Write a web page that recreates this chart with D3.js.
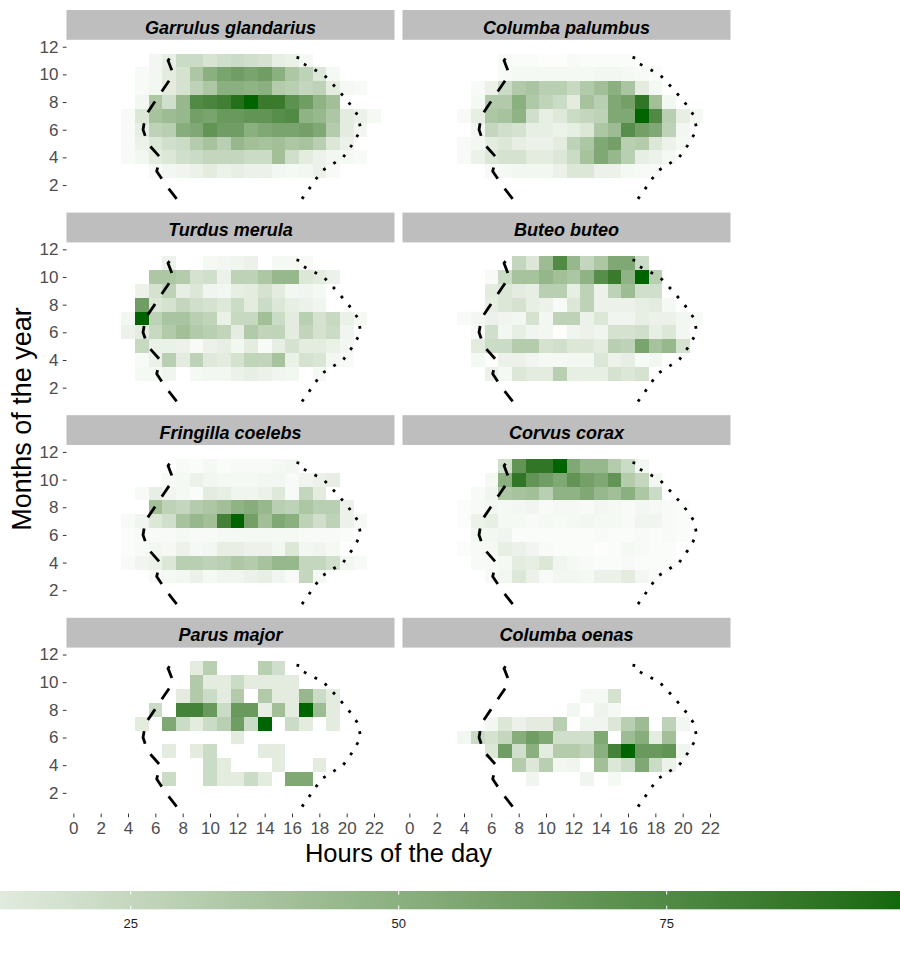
<!DOCTYPE html>
<html>
<head>
<meta charset="utf-8">
<script src="https://cdn.jsdelivr.net/npm/d3@7"></script>
<style>
body { margin: 0; background: #fff; }
svg { display: block; font-family: "Liberation Sans", Arial, sans-serif; }
</style>
</head>
<body>
<svg id="chart" width="900" height="955"></svg>
<script>
// facets, in reading order
const species = [
	"Garrulus glandarius", "Columba palumbus",
	"Turdus merula", "Buteo buteo",
	"Fringilla coelebs", "Corvus corax",
	"Parus major", "Columba oenas"
];

// rows of every grid, top to bottom (months 12, 2 and 1 hold no tiles)
const rowMonths = [11, 10, 9, 8, 7, 6, 5, 4, 3];
const hours = d3.range(24);

// one value per hour 0..23, 0 = no tile
const garrulusGlandarius = [
	[0,0,0,0,0,0, 5,10,22,22,17,20, 22,20,18,10,9,4, 0,0,0,0,0,0],
	[0,0,0,0,0,3, 5,12,18,35,50,58, 62,58,62,50,35,28, 15,4,0,0,0,0],
	[0,0,0,0,0,3, 5,12,18,28,35,50, 50,48,50,32,30,25, 28,12,4,3,0,0],
	[0,0,0,0,0,5, 35,20,45,75,78,82, 92,100,85,85,70,62, 48,40,0,0,0,0],
	[0,0,0,0,3,15, 38,42,45,60,58,65, 65,68,68,72,75,48, 45,35,12,8,4,0],
	[0,0,0,0,3,10, 28,30,52,55,68,62, 62,50,55,58,58,60, 55,32,12,5,0,0],
	[0,0,0,0,3,8, 15,20,22,32,38,30, 45,40,38,40,35,38, 30,15,8,0,0,0],
	[0,0,0,0,3,5, 12,15,20,22,25,25, 25,22,22,40,20,12, 8,5,4,3,0,0],
	[0,0,0,0,0,0, 3,5,6,8,12,8, 10,8,8,5,4,5, 8,3,0,0,0,0]
];
const columbaPalumbus = [
	[0,0,0,0,0,0, 0,3,2,2,1,1, 3,2,2,2,2,0, 0,0,0,0,0,0],
	[0,0,0,0,0,0, 0,3,4,4,4,4, 4,4,5,5,4,3, 2,0,0,0,0,0],
	[0,0,0,0,0,3, 8,22,33,37,30,30, 24,33,40,50,37,12, 4,0,0,0,0,0],
	[0,0,0,0,0,4, 33,33,50,34,27,22, 12,38,30,55,60,88, 40,5,0,0,0,0],
	[0,0,0,0,3,10, 35,38,48,20,10,14, 22,25,28,55,55,100, 75,30,10,4,0,0],
	[0,0,0,0,0,5, 25,20,18,10,10,8, 10,15,35,42,72,60, 55,28,5,0,0,0],
	[0,0,0,0,3,5, 12,15,10,8,8,12, 28,35,55,60,30,32, 15,8,4,0,0,0],
	[0,0,0,0,3,8, 15,18,18,12,12,15, 22,38,55,45,30,10, 8,4,0,0,0,0],
	[0,0,0,0,0,0, 3,4,5,5,5,8, 15,15,8,8,4,3, 3,0,0,0,0,0]
];
const turdusMerula = [
	[0,0,0,0,0,0, 0,8,0,0,4,5, 6,8,0,4,4,3, 0,0,0,0,0,0],
	[0,0,0,0,0,0, 35,35,32,18,20,8, 28,28,35,45,45,15, 12,8,0,0,0,0],
	[0,0,0,0,0,8, 18,28,10,15,6,5, 10,12,18,12,5,6, 4,0,0,0,0,0],
	[0,0,0,0,0,62, 15,18,25,20,18,14, 22,12,22,15,10,8, 6,0,0,0,0,0],
	[0,0,0,0,5,100, 28,37,37,30,27,9, 24,24,40,22,12,30, 18,24,9,4,0,0],
	[0,0,0,0,8,12, 24,33,40,33,30,26, 11,33,26,27,12,26, 18,22,6,0,0,0],
	[0,0,0,0,0,24, 9,9,8,3,8,10, 5,12,3,10,18,12, 12,9,5,0,0,0],
	[0,0,0,0,0,3, 8,30,12,28,14,12, 18,27,26,38,9,18, 16,5,3,0,0,0],
	[0,0,0,0,0,4, 4,6,0,4,5,5, 8,10,8,6,5,0, 4,0,0,0,0,0]
];
const buteoButeo = [
	[0,0,0,0,0,0, 0,0,25,15,42,75, 45,25,35,55,55,22, 0,0,0,0,0,0],
	[0,0,0,0,0,0, 3,22,38,38,46,40, 36,48,72,85,48,100, 30,0,0,0,0,0],
	[0,0,0,0,0,0, 12,15,12,10,30,30, 10,28,8,28,42,20, 20,0,0,0,0,0],
	[0,0,0,0,0,0, 10,15,18,10,8,3, 15,28,8,8,8,10, 12,4,0,0,0,0],
	[0,0,0,0,3,5, 8,6,5,18,5,28, 28,8,15,6,6,10, 8,8,5,3,0,0],
	[0,0,0,0,0,3, 20,5,10,6,5,1, 6,8,6,18,18,20, 10,15,5,0,0,0],
	[0,0,0,0,0,12, 22,22,32,32,18,20, 15,15,12,30,28,58, 38,45,18,0,0,0],
	[0,0,0,0,0,4, 1,8,8,6,4,4, 5,5,15,8,10,3, 5,0,0,0,0,0],
	[0,0,0,0,0,0, 8,4,15,12,12,30, 10,10,10,18,15,18, 0,0,0,0,0,0]
];
const fringillaCoelebs = [
	[0,0,0,0,0,0, 0,0,3,2,4,2, 3,3,3,4,5,0, 0,0,0,0,0,0],
	[0,0,0,0,0,0, 0,3,4,8,5,4, 4,4,5,5,3,6, 8,10,0,0,0,0],
	[0,0,0,0,0,3, 10,6,4,2,12,10, 6,6,8,14,3,25, 12,0,0,0,0,0],
	[0,0,0,0,0,0, 40,28,25,32,35,40, 48,52,45,30,28,35, 30,30,8,0,0,0],
	[0,0,0,0,3,6, 15,20,38,45,40,80, 100,60,40,55,50,28, 20,28,8,4,0,0],
	[0,0,0,0,2,3, 3,3,4,3,3,4, 4,4,4,4,4,3, 3,3,2,0,0,0],
	[0,0,0,0,2,3, 5,4,8,4,5,10, 10,8,8,5,15,5, 6,4,0,0,0,0],
	[0,0,0,0,3,6, 8,15,30,30,28,30, 35,32,38,45,45,25, 25,20,5,3,0,0],
	[0,0,0,0,0,0, 3,4,5,8,4,6, 6,8,10,6,3,25, 4,0,0,0,0,0]
];
const corvusCorax = [
	[0,0,0,0,0,0, 0,20,68,88,88,100, 55,45,45,32,22,5, 0,0,0,0,0,0],
	[0,0,0,0,0,0, 4,50,88,68,62,55, 68,60,55,68,32,25, 5,0,0,0,0,0],
	[0,0,0,0,0,3, 6,35,38,40,30,48, 48,55,45,40,50,35, 22,0,0,0,0,0],
	[0,0,0,0,2,3, 5,4,5,6,3,4, 4,3,5,4,3,5, 4,3,2,0,0,0],
	[0,0,0,0,2,8, 10,4,4,3,4,3, 4,5,4,4,3,6, 6,3,2,0,0,0],
	[0,0,0,0,0,5, 5,6,2,2,2,2, 2,2,3,2,2,3, 2,3,2,0,0,0],
	[0,0,0,0,2,3, 4,10,8,6,3,2, 2,2,1,2,4,3, 2,2,0,0,0,0],
	[0,0,0,0,0,3, 3,4,12,10,15,6, 4,3,2,2,3,2, 2,2,0,0,0,0],
	[0,0,0,0,0,0, 3,5,15,8,3,5, 5,4,8,8,12,5, 2,0,0,0,0,0]
];
const parusMajor = [
	[0,0,0,0,0,0, 0,0,0,12,30,0, 0,0,30,20,0,0, 0,0,0,0,0,0],
	[0,0,0,0,0,0, 0,0,0,33,12,12, 22,12,12,12,12,0, 0,0,0,0,0,0],
	[0,0,0,0,0,0, 0,0,12,33,22,12, 33,0,33,12,12,45, 22,12,0,0,0,0],
	[0,0,0,0,0,0, 22,0,80,80,65,22, 65,65,10,40,12,100, 42,12,0,0,0,0],
	[0,0,0,0,0,12, 0,55,22,12,22,30, 62,22,100,0,22,12, 0,12,0,0,0,0],
	[0,0,0,0,0,0, 0,0,0,0,0,0, 12,0,0,0,0,0, 0,0,0,0,0,0],
	[0,0,0,0,0,0, 0,12,0,12,22,0, 0,0,12,12,0,0, 0,0,0,0,0,0],
	[0,0,0,0,0,0, 0,0,0,0,22,12, 0,0,0,12,0,0, 12,0,0,0,0,0],
	[0,0,0,0,0,0, 0,22,0,0,22,12, 12,22,12,0,55,55, 0,0,0,0,0,0]
];
const columbaOenas = [
	[0,0,0,0,0,0, 0,0,0,0,0,0, 0,0,0,0,0,0, 0,0,0,0,0,0],
	[0,0,0,0,0,0, 0,0,0,0,0,0, 0,0,0,0,0,0, 0,0,0,0,0,0],
	[0,0,0,0,0,0, 0,0,0,0,0,0, 0,4,4,18,0,0, 0,0,0,0,0,0],
	[0,0,0,0,0,0, 0,0,0,0,0,0, 5,0,7,4,0,0, 0,0,0,0,0,0],
	[0,0,0,0,0,0, 5,15,8,12,12,30, 0,6,6,15,30,42, 0,28,5,0,0,0],
	[0,0,0,0,5,22, 18,25,52,62,55,20, 20,20,55,0,42,52, 12,40,0,0,0,0],
	[0,0,0,0,0,0, 15,62,20,50,12,32, 32,28,50,80,100,65, 65,68,6,0,0,0],
	[0,0,0,0,0,0, 0,0,32,15,30,5, 6,0,40,15,22,55, 22,8,0,0,0,0],
	[0,0,0,0,0,0, 0,0,0,6,0,0, 0,6,0,4,0,0, 0,0,0,0,0,0]
];
const speciesData = [
	garrulusGlandarius, columbaPalumbus, turdusMerula, buteoButeo,
	fringillaCoelebs, corvusCorax, parusMajor, columbaOenas
];

// sunrise (dashed) and sunset (dotted) hour, by month
const sunriseMonths = [1, 2, 3, 4, 5, 6, 7, 8, 9, 10, 11, 11.4];
const sunrise = [7.56, 6.77, 6.1, 6.35, 5.45, 5.1, 5.27, 5.95, 6.63, 7.32, 6.93, 7.22];
const sunsetMonths = [1, 2, 3, 4, 5, 6, 7, 8, 9, 10, 11, 11.35];
const sunset = [16.73, 17.45, 18.15, 19.74, 20.46, 21.03, 20.84, 20.13, 19.26, 18.31, 16.38, 16.46];

const xTicks = [0, 2, 4, 6, 8, 10, 12, 14, 16, 18, 20, 22];
const yTicks = [2, 4, 6, 8, 10, 12];
const legendTicks = [25, 50, 75];

// layout
const panelW = 328, panelH = 166, stripH = 29.8;
const panelLeft = [66.5, 402.5];
const panelTop = 39.8, rowStep = 202.6;

const svg = d3.select("#chart");

const fill = d3.scaleLinear()
	.domain([0, 100])
	.range(["#ffffff", "#006400"])
	.interpolate(d3.interpolateLab);

const x = d3.scaleLinear().domain([-0.5, 23.5]).range([0, panelW]);
const y = d3.scaleLinear().domain([0.5, 12.5]).range([panelH, 0]);

const sunriseLine = d3.line()
	.x(d => x(d))
	.y((d, i) => y(sunriseMonths[i]));
const sunsetLine = d3.line()
	.x(d => x(d))
	.y((d, i) => y(sunsetMonths[i]));

function styleAxis(g) {
	g.select(".domain").remove();
	g.selectAll(".tick line").attr("stroke", "#333").attr("stroke-width", 1);
	g.selectAll(".tick text")
		.attr("fill", "#4d4d4d")
		.style("font-size", "17px")
		.style("font-family", "'Liberation Sans', Arial, sans-serif");
}

species.forEach((name, i) => {
	const col = i % 2;
	const row = Math.floor(i / 2);
	const g = svg.append("g")
		.attr("class", "panel")
		.attr("transform", `translate(${panelLeft[col]},${panelTop + row * rowStep})`);

	// strip
	g.append("rect")
		.attr("x", 0)
		.attr("y", -stripH)
		.attr("width", panelW)
		.attr("height", stripH)
		.attr("fill", "#bebebe");
	g.append("text")
		.attr("x", panelW / 2)
		.attr("y", -stripH + 23.5)
		.attr("text-anchor", "middle")
		.style("font-size", "18px")
		.style("font-weight", "bold")
		.style("font-style", "italic")
		.text(name);

	// tiles
	const cells = [];
	rowMonths.forEach((m, r) => {
		speciesData[i][r].forEach((v, h) => {
			if (v > 0) cells.push({ month: m, hour: hours[h], value: v });
		});
	});
	g.append("g")
		.attr("class", "tiles")
		.selectAll("rect")
		.data(cells)
		.join("rect")
		.attr("x", d => x(d.hour - 0.5))
		.attr("y", d => y(d.month + 0.5))
		.attr("width", d => x(d.hour + 0.5) - x(d.hour - 0.5))
		.attr("height", d => y(d.month - 0.5) - y(d.month + 0.5))
		.attr("fill", d => fill(d.value))
		.attr("shape-rendering", "crispEdges");

	// sunrise / sunset
	g.append("path")
		.datum(sunrise)
		.attr("d", sunriseLine)
		.attr("fill", "none")
		.attr("stroke", "#000")
		.attr("stroke-width", 2.8)
		.attr("stroke-dasharray", "13 12");
	g.append("path")
		.datum(sunset)
		.attr("d", sunsetLine)
		.attr("fill", "none")
		.attr("stroke", "#000")
		.attr("stroke-width", 2.8)
		.attr("stroke-dasharray", "2.8 9.2");

	if (col === 0) {
		g.append("g")
			.attr("class", "yaxis")
			.call(d3.axisLeft(y).tickValues(yTicks).tickSize(3.7).tickPadding(4.3))
			.call(styleAxis);
	}
	if (row === 3) {
		g.append("g")
			.attr("class", "xaxis")
			.attr("transform", `translate(0,${panelH})`)
			.call(d3.axisBottom(x).tickValues(xTicks).tickSize(3.7).tickPadding(4.3))
			.call(styleAxis);
	}
});

// axis titles
svg.append("text")
	.attr("x", (panelLeft[0] + panelLeft[1] + panelW) / 2)
	.attr("y", 861.5)
	.attr("text-anchor", "middle")
	.style("font-size", "25.5px")
	.text("Hours of the day");
svg.append("text")
	.attr("transform", "translate(31,419) rotate(-90)")
	.attr("text-anchor", "middle")
	.style("font-size", "27px")
	.text("Months of the year");

// colour bar (wider than the page, as in the original)
const legendX = d3.scaleLinear().domain([25, 75]).range([130.7, 666.7]);
const barTop = 891, barH = 18.3;
const grad = svg.append("defs").append("linearGradient")
	.attr("id", "fillGrad")
	.attr("gradientUnits", "userSpaceOnUse")
	.attr("x1", legendX(0))
	.attr("x2", legendX(100))
	.attr("y1", 0)
	.attr("y2", 0);
grad.selectAll("stop")
	.data(d3.range(0, 101, 5))
	.join("stop")
	.attr("offset", d => d / 100)
	.attr("stop-color", d => fill(d));
svg.append("rect")
	.attr("x", legendX(0))
	.attr("y", barTop)
	.attr("width", legendX(100) - legendX(0))
	.attr("height", barH)
	.attr("fill", "url(#fillGrad)");

const legendG = svg.append("g").attr("class", "legend");
legendTicks.forEach(t => {
	legendG.append("line")
		.attr("x1", legendX(t)).attr("x2", legendX(t))
		.attr("y1", barTop).attr("y2", barTop + barH / 5)
		.attr("stroke", "#fff").attr("stroke-width", 1);
	legendG.append("line")
		.attr("x1", legendX(t)).attr("x2", legendX(t))
		.attr("y1", barTop + barH - barH / 5).attr("y2", barTop + barH)
		.attr("stroke", "#fff").attr("stroke-width", 1);
	legendG.append("text")
		.attr("x", legendX(t))
		.attr("y", 927.5)
		.attr("text-anchor", "middle")
		.attr("fill", "#1a1a1a")
		.style("font-size", "13px")
		.text(t);
});
</script>
</body>
</html>
